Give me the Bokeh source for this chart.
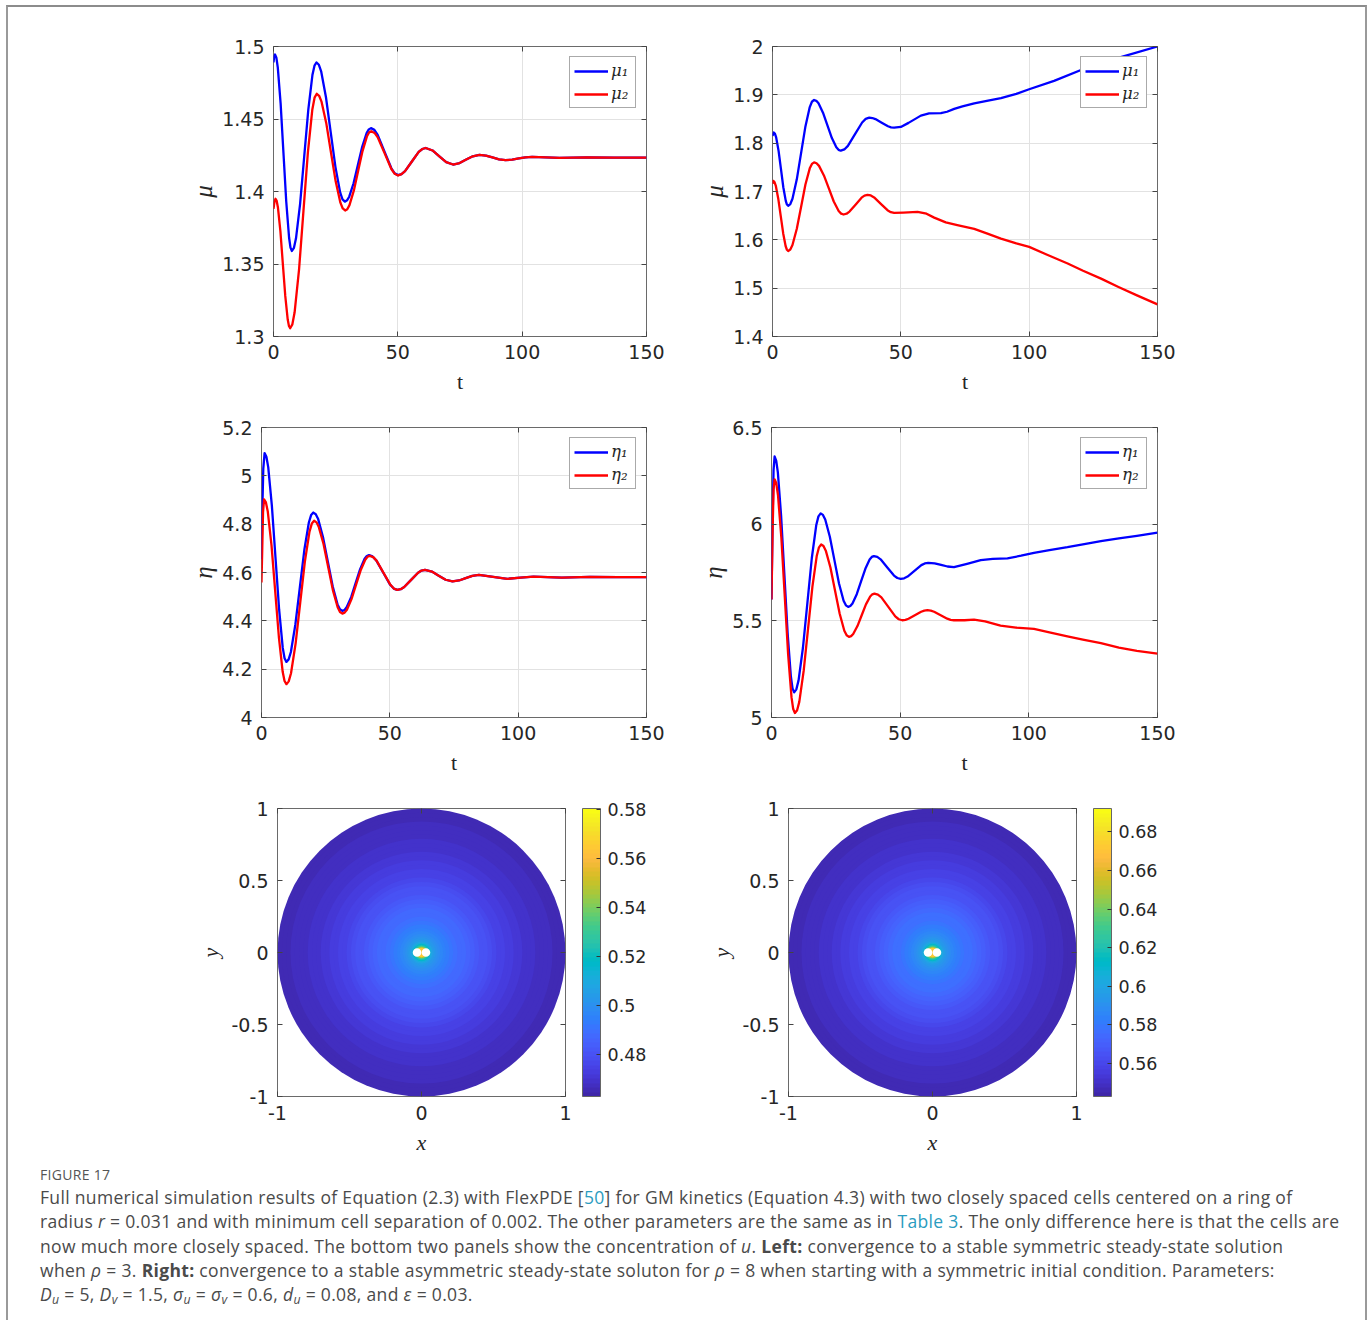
import numpy as np
from bokeh.plotting import figure
from bokeh.models import (ColumnDataSource, LinearAxis, FixedTicker, Legend, LegendItem,
                          LinearColorMapper, ColorBar, Div, Spacer, Range1d)
from bokeh.layouts import row, column
from bokeh.embed import file_html
from bokeh.resources import INLINE

# ---------------- data: (t, value) pairs ----------------
# Panel 1 (rho = 3): mu1
p1_mu1 = [(0, 1.489), (0.3, 1.4935), (0.6, 1.4945), (1.17, 1.4922), (1.73, 1.4854), (2.87, 1.4606),
          (4.0, 1.4267), (5.13, 1.3929), (6.27, 1.3681), (6.83, 1.3613), (7.4, 1.359), (8.23, 1.3612),
          (9.05, 1.3677), (10.7, 1.3915), (12.35, 1.424), (14.0, 1.4565), (15.65, 1.4803),
          (16.48, 1.4868), (17.3, 1.489), (18.25, 1.4874), (19.2, 1.4826), (21.1, 1.465),
          (23.0, 1.441), (24.9, 1.417), (26.8, 1.3994), (27.75, 1.3946), (28.7, 1.393),
          (29.575, 1.3939), (30.45, 1.3964), (32.2, 1.4057), (33.95, 1.4184), (35.7, 1.431),
          (37.45, 1.4403), (38.325, 1.4428), (39.2, 1.4437), (40.56, 1.4425), (41.9, 1.439),
          (44.65, 1.4275), (47.4, 1.416), (48.74, 1.4125), (50.1, 1.4113), (51.49, 1.412),
          (52.9, 1.414), (55.65, 1.4207), (58.4, 1.4273), (59.81, 1.4293), (61.2, 1.430),
          (63.95, 1.4283), (66.7, 1.4243), (69.45, 1.4203), (72.2, 1.4186), (74.85, 1.4196),
          (77.5, 1.422), (80.15, 1.4243), (82.8, 1.4253), (85.4, 1.4248), (88.05, 1.4235),
          (90.7, 1.4221), (93.3, 1.4216), (96.0, 1.422), (98.65, 1.4228), (101.3, 1.4236),
          (104.0, 1.4239), (115, 1.4232), (126, 1.4236), (137, 1.4234), (150, 1.4234)]
# Panel 1: mu2
p1_mu2 = [(0, 1.388), (0.4, 1.393), (0.8, 1.395), (1.29, 1.3935), (1.78, 1.389), (2.77, 1.3727),
          (3.75, 1.3503), (4.73, 1.328), (5.72, 1.3117), (6.21, 1.3072), (6.7, 1.3057),
          (7.59, 1.3084), (8.48, 1.3165), (10.27, 1.3461), (12.05, 1.3866), (13.83, 1.427),
          (15.62, 1.4566), (16.51, 1.4647), (17.4, 1.4674), (18.35, 1.466), (19.3, 1.462),
          (21.2, 1.4473), (23.1, 1.4271), (25.0, 1.407), (26.9, 1.3923), (27.85, 1.3883),
          (28.8, 1.3869), (29.675, 1.3878), (30.55, 1.3906), (32.3, 1.4006), (34.05, 1.4143),
          (35.8, 1.4279), (37.55, 1.4379), (38.425, 1.4407), (39.3, 1.4416), (40.65, 1.4404),
          (42.0, 1.4371), (44.7, 1.4263), (47.4, 1.4155), (48.75, 1.4122), (50.1, 1.411),
          (51.49, 1.412), (52.9, 1.414), (55.65, 1.4207), (58.4, 1.4273), (59.81, 1.4293),
          (61.2, 1.430), (63.95, 1.4283), (66.7, 1.4243), (69.45, 1.4203), (72.2, 1.4186),
          (74.85, 1.4196), (77.5, 1.422), (80.15, 1.4243), (82.8, 1.4253), (85.4, 1.4248),
          (88.05, 1.4235), (90.7, 1.4221), (93.3, 1.4216), (96.0, 1.422), (98.65, 1.4228),
          (101.3, 1.4236), (104.0, 1.4239), (115, 1.4232), (126, 1.4236), (137, 1.4234),
          (150, 1.4234)]

# Panel 2 (rho = 8): mu1
p2_mu1 = [(0, 1.815), (0.5, 1.822), (0.97, 1.8194), (1.43, 1.8118), (2.37, 1.7841), (3.3, 1.7462),
          (4.23, 1.7083), (5.17, 1.6806), (5.63, 1.673), (6.1, 1.6704), (6.94, 1.6741),
          (7.78, 1.6851), (9.47, 1.7252), (11.15, 1.7799), (12.83, 1.8347), (14.52, 1.8747),
          (15.36, 1.8857), (16.2, 1.8894), (17.07, 1.8876), (17.93, 1.8824), (19.67, 1.8631),
          (21.4, 1.8369), (23.13, 1.8106), (24.87, 1.7914), (25.73, 1.7862), (26.6, 1.7844),
          (27.99, 1.787), (29.375, 1.7944), (32.15, 1.8186), (34.925, 1.8428), (36.31, 1.8502),
          (37.7, 1.8528), (38.91, 1.852), (40.1, 1.8498), (42.55, 1.8424), (45.0, 1.835),
          (46.19, 1.8328), (47.4, 1.832), (50, 1.8335), (53, 1.842), (57.8, 1.857), (61, 1.8615),
          (65.6, 1.862), (68, 1.865), (70.8, 1.871), (74, 1.876), (78.6, 1.8825), (84, 1.888),
          (89, 1.893), (95, 1.902), (100, 1.9115), (109.7, 1.929), (121.4, 1.954),
          (135.7, 1.978), (150, 2.0)]
# Panel 2: mu2
p2_mu2 = [(0, 1.716), (0.3, 1.722), (0.78, 1.7195), (1.27, 1.7123), (2.23, 1.6857), (3.2, 1.6495),
          (4.17, 1.6132), (5.13, 1.5867), (5.62, 1.5795), (6.1, 1.577), (6.94, 1.5801),
          (7.78, 1.5893), (9.47, 1.6228), (11.15, 1.6686), (12.83, 1.7144), (14.52, 1.7479),
          (15.36, 1.7571), (16.2, 1.7602), (17.16, 1.7584), (18.12, 1.753), (20.03, 1.7332),
          (21.95, 1.7063), (23.87, 1.6793), (25.78, 1.6596), (26.74, 1.6542), (27.7, 1.6524),
          (28.86, 1.654), (30.0, 1.6584), (32.35, 1.6728), (34.7, 1.6872), (35.84, 1.6916),
          (37.0, 1.6932), (38.3, 1.6918), (39.6, 1.6877), (42.2, 1.6745), (44.8, 1.6614),
          (46.1, 1.6573), (47.4, 1.6559), (51, 1.6565), (56.5, 1.658), (60, 1.654), (63, 1.646),
          (67.5, 1.636), (72, 1.6305), (78.6, 1.6227), (84, 1.6125), (89, 1.6026), (95, 1.5925),
          (100, 1.5854), (107, 1.569), (115, 1.551), (121, 1.536), (128, 1.5197), (135, 1.502),
          (142, 1.485), (150, 1.4665)]

# Panel 3 (rho = 3): eta1
p3_eta1 = [(0, 4.655), (0.3, 4.85), (0.7, 5.03), (1.2, 5.094), (1.91, 5.079), (2.62, 5.036),
           (4.03, 4.878), (5.45, 4.662), (6.87, 4.446), (8.28, 4.288), (8.99, 4.245), (9.7, 4.230),
           (10.575, 4.2405), (11.45, 4.271), (13.2, 4.385), (14.95, 4.539), (16.7, 4.694),
           (18.45, 4.807), (19.325, 4.8375), (20.2, 4.848), (21.14, 4.841), (22.08, 4.821),
           (23.97, 4.746), (25.85, 4.645), (27.73, 4.543), (29.62, 4.468), (30.56, 4.448),
           (31.5, 4.441), (32.37, 4.445), (33.23, 4.457), (34.97, 4.499), (36.7, 4.557),
           (38.43, 4.614), (40.17, 4.657), (41.03, 4.668), (41.9, 4.672), (43.275, 4.6665),
           (44.65, 4.651), (47.4, 4.600), (50.15, 4.549), (51.525, 4.5335), (52.9, 4.528),
           (54.25, 4.531), (55.6, 4.540), (58.3, 4.5695), (61.0, 4.599), (62.35, 4.608),
           (63.7, 4.611), (66.38, 4.604), (69.05, 4.587), (71.73, 4.570), (74.4, 4.563),
           (76.98, 4.567), (79.55, 4.5765), (82.13, 4.586), (84.7, 4.590), (90.25, 4.582),
           (95.8, 4.574), (100.9, 4.5785), (106, 4.583), (117, 4.579), (128, 4.582), (139, 4.581),
           (150, 4.581)]
# Panel 3: eta2
p3_eta2 = [(0, 4.559), (0.3, 4.70), (0.6, 4.85), (1.0, 4.903), (1.725, 4.890), (2.45, 4.852),
           (3.9, 4.712), (5.35, 4.521), (6.8, 4.329), (8.25, 4.189), (8.975, 4.151), (9.7, 4.138),
           (10.6, 4.1495), (11.5, 4.183), (13.3, 4.307), (15.1, 4.476), (16.9, 4.645),
           (18.7, 4.769), (19.6, 4.8025), (20.5, 4.814), (21.42, 4.8075), (22.33, 4.788),
           (24.17, 4.718), (26.0, 4.622), (27.83, 4.526), (29.67, 4.456), (30.58, 4.4365),
           (31.5, 4.430), (32.39, 4.434), (33.28, 4.446), (35.07, 4.490), (36.85, 4.550),
           (38.63, 4.609), (40.42, 4.653), (41.31, 4.665), (42.2, 4.669), (43.54, 4.6636),
           (44.88, 4.648), (47.55, 4.5985), (50.23, 4.549), (51.56, 4.5334), (52.9, 4.528),
           (54.25, 4.531), (55.6, 4.540), (58.3, 4.5695), (61.0, 4.599), (62.35, 4.608),
           (63.7, 4.611), (66.38, 4.604), (69.05, 4.587), (71.73, 4.570), (74.4, 4.563),
           (76.98, 4.567), (79.55, 4.5765), (82.13, 4.586), (84.7, 4.590), (90.25, 4.582),
           (95.8, 4.574), (100.9, 4.5785), (106, 4.583), (117, 4.579), (128, 4.582), (139, 4.581),
           (150, 4.581)]

# Panel 4 (rho = 8): eta1
p4_eta1 = [(0, 5.61), (0.4, 6.0), (0.8, 6.28), (1.2, 6.35), (1.83, 6.329), (2.47, 6.268),
           (3.73, 6.045), (5.0, 5.740), (6.27, 5.435), (7.53, 5.212), (8.17, 5.151), (8.8, 5.130),
           (9.66, 5.1457), (10.52, 5.192), (12.23, 5.362), (13.95, 5.593), (15.67, 5.825),
           (17.38, 5.994), (18.24, 6.0403), (19.1, 6.056), (19.99, 6.0478), (20.88, 6.024),
           (22.67, 5.935), (24.45, 5.814), (26.23, 5.693), (28.02, 5.604), (28.91, 5.5802),
           (29.8, 5.572), (30.63, 5.5765), (31.47, 5.590), (33.13, 5.638), (34.8, 5.704),
           (36.47, 5.769), (38.13, 5.817), (38.97, 5.8305), (39.8, 5.835), (41.1, 5.8305),
           (42.4, 5.818), (45.0, 5.776), (47.6, 5.734), (48.9, 5.7215), (50.2, 5.717),
           (51.54, 5.7202), (52.88, 5.729), (55.55, 5.7585), (58.23, 5.788), (59.56, 5.7968),
           (60.9, 5.800), (63.4, 5.797), (65.9, 5.789), (68.4, 5.781), (70.9, 5.778), (76, 5.795),
           (81.3, 5.814), (86, 5.820), (91.7, 5.823), (97, 5.837), (102, 5.852), (108, 5.866),
           (115, 5.881), (121, 5.896), (128, 5.912), (135, 5.926), (142, 5.940), (150, 5.956)]
# Panel 4: eta2
p4_eta2 = [(0, 5.61), (0.4, 5.95), (0.8, 6.18), (1.2, 6.232), (1.86, 6.2114), (2.52, 6.151),
           (3.83, 5.930), (5.15, 5.6275), (6.47, 5.325), (7.78, 5.104), (8.44, 5.0436), (9.1, 5.023),
           (9.95, 5.0378), (10.8, 5.081), (12.5, 5.241), (14.2, 5.459), (15.9, 5.677),
           (17.6, 5.837), (18.45, 5.8802), (19.3, 5.895), (20.2, 5.8869), (21.1, 5.863),
           (22.9, 5.7755), (24.7, 5.656), (26.5, 5.5365), (28.3, 5.449), (29.2, 5.4251),
           (30.1, 5.417), (30.93, 5.4208), (31.75, 5.432), (33.4, 5.473), (35.05, 5.529),
           (36.7, 5.585), (38.35, 5.626), (39.18, 5.6372), (40.0, 5.641), (41.35, 5.6358),
           (42.7, 5.621), (45.4, 5.572), (48.1, 5.523), (49.45, 5.5082), (50.8, 5.503),
           (52.03, 5.505), (53.25, 5.5106), (55.7, 5.529), (58.15, 5.547), (59.38, 5.553),
           (60.6, 5.555), (61.89, 5.553), (63.2, 5.547), (65.75, 5.529), (68.3, 5.511),
           (69.61, 5.505), (70.9, 5.503), (75, 5.503), (78.7, 5.506), (83, 5.497), (89, 5.475),
           (95, 5.465), (102, 5.458), (108, 5.440), (115, 5.420), (121, 5.403), (128, 5.385),
           (135, 5.362), (142, 5.345), (150, 5.330)]

# Bottom panels: radial profile of u on the unit disk (outer -> inner)
disk_r = [1.0, 0.97, 0.94, 0.91, 0.88, 0.85, 0.82, 0.79, 0.76, 0.73, 0.70, 0.67, 0.64, 0.61,
          0.58, 0.55, 0.52, 0.49, 0.46, 0.43, 0.40, 0.37, 0.34, 0.31, 0.28, 0.25, 0.22, 0.195,
          0.17, 0.15, 0.13, 0.115, 0.10, 0.088, 0.077, 0.068, 0.06, 0.053, 0.047, 0.042, 0.037,
          0.033]
u_left = [0.4660, 0.4663, 0.4666, 0.4669, 0.4673, 0.4677, 0.4682, 0.4687, 0.4693, 0.4700,
          0.4708, 0.4716, 0.4725, 0.4735, 0.4746, 0.4758, 0.4770, 0.4783, 0.4797, 0.4811,
          0.4826, 0.4841, 0.4856, 0.4871, 0.4887, 0.4903, 0.4919, 0.4934, 0.4950, 0.4965,
          0.4983, 0.5000, 0.5022, 0.5048, 0.5080, 0.5120, 0.5170, 0.5230, 0.5300, 0.5390,
          0.5500, 0.5650]
u_right = [0.5468, 0.5472, 0.5476, 0.5479, 0.5485, 0.5490, 0.5496, 0.5502, 0.5510, 0.5519,
           0.5529, 0.5539, 0.5550, 0.5563, 0.5577, 0.5592, 0.5608, 0.5624, 0.5642, 0.5660,
           0.5679, 0.5698, 0.5717, 0.5736, 0.5756, 0.5776, 0.5797, 0.5816, 0.5836, 0.5855,
           0.5878, 0.5899, 0.5927, 0.5960, 0.6001, 0.6051, 0.6115, 0.6191, 0.6280, 0.6394,
           0.6533, 0.6723]
cbar_left_range = (0.463, 0.5805)
cbar_right_range = (0.543, 0.692)
cbar_left_ticks = [0.48, 0.50, 0.52, 0.54, 0.56, 0.58]
cbar_left_labels = ["0.48", "0.5", "0.52", "0.54", "0.56", "0.58"]
cbar_right_ticks = [0.56, 0.58, 0.60, 0.62, 0.64, 0.66, 0.68]
cbar_right_labels = ["0.56", "0.58", "0.6", "0.62", "0.64", "0.66", "0.68"]
ring_radius = 0.031      # cells centred on a ring of radius r
cell_radius = 0.03       # epsilon
cell_x = [-ring_radius, ring_radius]
cell_y = [0.0, 0.0]
disk_center = (0.0, 0.0)

# tick values / labels
t_ticks = [0, 50, 100, 150]
t_labels = ["0", "50", "100", "150"]
p1_yticks = [1.3, 1.35, 1.4, 1.45, 1.5]
p1_ylabels = ["1.3", "1.35", "1.4", "1.45", "1.5"]
p2_yticks = [1.4, 1.5, 1.6, 1.7, 1.8, 1.9, 2.0]
p2_ylabels = ["1.4", "1.5", "1.6", "1.7", "1.8", "1.9", "2"]
p3_yticks = [4.0, 4.2, 4.4, 4.6, 4.8, 5.0, 5.2]
p3_ylabels = ["4", "4.2", "4.4", "4.6", "4.8", "5", "5.2"]
p4_yticks = [5.0, 5.5, 6.0, 6.5]
p4_ylabels = ["5", "5.5", "6", "6.5"]
disk_xticks = [-1, 0, 1]
disk_xlabels = ["-1", "0", "1"]
disk_yticks = [-1, -0.5, 0, 0.5, 1]
disk_ylabels = ["-1", "-0.5", "0", "0.5", "1"]

# MATLAB parula colormap (64 entries)
PARULA_RGB = [
    (0.2422, 0.1504, 0.6603), (0.2504, 0.1650, 0.7076), (0.2578, 0.1818, 0.7511), (0.2647, 0.1978, 0.7952),
    (0.2706, 0.2147, 0.8364), (0.2751, 0.2342, 0.8710), (0.2783, 0.2559, 0.8991), (0.2803, 0.2782, 0.9221),
    (0.2813, 0.3006, 0.9414), (0.2810, 0.3228, 0.9579), (0.2795, 0.3447, 0.9717), (0.2760, 0.3667, 0.9829),
    (0.2699, 0.3892, 0.9906), (0.2602, 0.4123, 0.9952), (0.2440, 0.4358, 0.9988), (0.2206, 0.4603, 0.9973),
    (0.1963, 0.4847, 0.9892), (0.1834, 0.5074, 0.9798), (0.1786, 0.5289, 0.9682), (0.1764, 0.5499, 0.9520),
    (0.1687, 0.5703, 0.9359), (0.1540, 0.5902, 0.9218), (0.1460, 0.6091, 0.9079), (0.1380, 0.6276, 0.8973),
    (0.1248, 0.6459, 0.8883), (0.1113, 0.6635, 0.8763), (0.0952, 0.6798, 0.8598), (0.0689, 0.6948, 0.8394),
    (0.0297, 0.7082, 0.8163), (0.0036, 0.7203, 0.7917), (0.0067, 0.7312, 0.7660), (0.0433, 0.7411, 0.7394),
    (0.0964, 0.7500, 0.7120), (0.1408, 0.7584, 0.6842), (0.1717, 0.7670, 0.6554), (0.1938, 0.7758, 0.6251),
    (0.2161, 0.7843, 0.5923), (0.2470, 0.7918, 0.5567), (0.2906, 0.7973, 0.5188), (0.3406, 0.8008, 0.4789),
    (0.3909, 0.8029, 0.4354), (0.4456, 0.8024, 0.3909), (0.5044, 0.7993, 0.3480), (0.5616, 0.7942, 0.3045),
    (0.6174, 0.7876, 0.2612), (0.6720, 0.7793, 0.2227), (0.7242, 0.7698, 0.1910), (0.7738, 0.7598, 0.1646),
    (0.8203, 0.7498, 0.1535), (0.8634, 0.7406, 0.1596), (0.9035, 0.7330, 0.1774), (0.9393, 0.7288, 0.2100),
    (0.9728, 0.7298, 0.2394), (0.9956, 0.7434, 0.2371), (0.9970, 0.7659, 0.2199), (0.9952, 0.7893, 0.2028),
    (0.9892, 0.8136, 0.1885), (0.9786, 0.8386, 0.1766), (0.9676, 0.8639, 0.1643), (0.9610, 0.8890, 0.1537),
    (0.9597, 0.9135, 0.1423), (0.9628, 0.9373, 0.1265), (0.9691, 0.9606, 0.1064), (0.9769, 0.9839, 0.0805)]
PARULA = ["#%02x%02x%02x" % tuple(int(round(c * 255)) for c in rgb) for rgb in PARULA_RGB]

TICK_FONT = "DejaVu Sans"
LABEL_FONT = "Liberation Serif"
TXT = "#262626"
FRAME = "#6a6a6a"


def style_main_axis(ax, ticks, labels, standoff, label_standoff, label, label_style, label_size="22px"):
    ax.ticker = FixedTicker(ticks=ticks)
    ax.major_label_overrides = {t: l for t, l in zip(ticks, labels)}
    ax.axis_line_color = None
    ax.major_tick_in = 5
    ax.major_tick_out = 0
    ax.minor_tick_line_color = None
    ax.major_tick_line_color = "#444444"
    ax.major_label_text_font = TICK_FONT
    ax.major_label_text_font_size = "19px"
    ax.major_label_text_color = TXT
    ax.major_label_standoff = standoff
    ax.axis_label = label
    ax.axis_label_standoff = label_standoff
    ax.axis_label_text_font = LABEL_FONT
    ax.axis_label_text_font_size = label_size
    ax.axis_label_text_font_style = label_style
    ax.axis_label_text_color = TXT


def mirror_axis(p, ticks, side, tick_in=5, tick_out=0, tick_color="#444444"):
    ax = LinearAxis(ticker=FixedTicker(ticks=ticks))
    ax.axis_line_color = None
    ax.major_tick_in = tick_in
    ax.major_tick_out = tick_out
    ax.minor_tick_line_color = None
    ax.major_tick_line_color = tick_color
    ax.major_label_text_font_size = "1px"
    ax.major_label_text_color = None
    ax.major_label_standoff = 0
    p.add_layout(ax, side)


def base_fig(fw, fh, ml, mr, mt, mb, xr, yr):
    p = figure(frame_width=fw, frame_height=fh, min_border_left=ml, min_border_right=mr,
               min_border_top=mt, min_border_bottom=mb, x_range=Range1d(*xr), y_range=Range1d(*yr),
               output_backend="svg", toolbar_location=None)
    p.outline_line_color = FRAME
    p.outline_line_width = 1
    p.background_fill_color = "white"
    p.border_fill_color = "white"
    return p


def line_fig(fw, fh, ml, mr, mt, mb, yr, yticks, ylabels, ysym, pts_a, pts_b):
    p = base_fig(fw, fh, ml, mr, mt, mb, (0, 150), yr)
    style_main_axis(p.xaxis[0], t_ticks, t_labels, 8, 7, "t", "normal")
    style_main_axis(p.yaxis[0], yticks, ylabels, 9, 2, ysym, "italic", "25px")
    p.xgrid.ticker = FixedTicker(ticks=t_ticks)
    p.ygrid.ticker = FixedTicker(ticks=yticks)
    p.grid.grid_line_color = "#e2e2e2"
    p.grid.grid_line_width = 1
    mirror_axis(p, yticks, "right")
    mirror_axis(p, t_ticks, "above")
    ta, ya = zip(*pts_a)
    tb, yb = zip(*pts_b)
    r1 = p.line(list(ta), list(ya), line_color="#0000ff", line_width=2.3, line_join="round")
    r2 = p.line(list(tb), list(yb), line_color="#ff0000", line_width=2.3, line_join="round")
    sub = {"μ": ("μ₁", "μ₂"), "η": ("η₁", "η₂")}[ysym]
    leg = Legend(items=[LegendItem(label=sub[0], renderers=[r1]),
                        LegendItem(label=sub[1], renderers=[r2])],
                 location="top_right")
    leg.margin = 10
    leg.padding = 4
    leg.spacing = 4
    leg.glyph_width = 34
    leg.glyph_height = 18
    leg.label_standoff = 3
    leg.label_height = 18
    leg.label_text_font = "DejaVu Serif"
    leg.label_text_font_style = "italic"
    leg.label_text_font_size = "16.5px"
    leg.label_text_color = TXT
    leg.border_line_color = "#555555"
    leg.border_line_width = 1
    leg.background_fill_color = "white"
    leg.background_fill_alpha = 1.0
    p.add_layout(leg)
    return p


def disk_fig(ml, mr, mt, mb, u_vals, crange, cticks, clabels):
    p = base_fig(288, 288, ml, mr, mt, mb, (-1, 1), (-1, 1))
    style_main_axis(p.xaxis[0], disk_xticks, disk_xlabels, 9, 7, "x", "italic")
    style_main_axis(p.yaxis[0], disk_yticks, disk_ylabels, 9, 5, "y", "italic")
    p.grid.visible = False
    mirror_axis(p, disk_yticks, "right")
    # invisible spacer axis: opens the gap between the frame and the colour bar
    mirror_axis(p, disk_yticks, "right", tick_in=0, tick_out=17, tick_color=None)
    mirror_axis(p, disk_xticks, "above")
    mapper = LinearColorMapper(palette=PARULA, low=crange[0], high=crange[1])
    n = len(disk_r)
    src = ColumnDataSource(dict(x=[disk_center[0]] * n, y=[disk_center[1]] * n, r=disk_r, u=u_vals))
    p.circle(x="x", y="y", radius="r", source=src,
             fill_color={"field": "u", "transform": mapper}, line_color=None)
    p.circle(x=cell_x, y=cell_y, radius=cell_radius, fill_color="white", line_color=None)
    cb = ColorBar(color_mapper=mapper, ticker=FixedTicker(ticks=cticks),
                  major_label_overrides={t: l for t, l in zip(cticks, clabels)},
                  width=18, height=288, padding=0, margin=0, location="top_left",
                  label_standoff=7, major_tick_in=4, major_tick_out=0,
                  major_tick_line_color="#333333", minor_tick_line_color=None,
                  bar_line_color="#666666", border_line_color=None,
                  background_fill_color=None,
                  major_label_text_font=TICK_FONT, major_label_text_font_size="17.5px",
                  major_label_text_color=TXT)
    p.add_layout(cb, "right")
    return p


f1 = line_fig(373, 290, 265, 44, 39, 64, (1.3, 1.5), p1_yticks, p1_ylabels, "μ", p1_mu1, p1_mu2)
f2 = line_fig(385, 290, 82, 208, 39, 64, (1.4, 2.0), p2_yticks, p2_ylabels, "μ", p2_mu1, p2_mu2)
f3 = line_fig(385, 290, 253, 44, 27, 63, (4.0, 5.2), p3_yticks, p3_ylabels, "η", p3_eta1, p3_eta2)
f4 = line_fig(386, 290, 81, 208, 27, 63, (5.0, 6.5), p4_yticks, p4_ylabels, "η", p4_eta1, p4_eta2)
f5 = disk_fig(269, 135, 28, 64, u_left, cbar_left_range, cbar_left_ticks, cbar_left_labels)
f6 = disk_fig(88, 289, 28, 64, u_right, cbar_right_range, cbar_right_ticks, cbar_right_labels)

LINK = "#2a9cc0"
SUB = "font-size:70%; line-height:0; vertical-align:-0.25em"
caption_html = (
    '<div style="font-family:\'Open Sans\'; color:#555555; font-size:14px; line-height:20px; '
    'letter-spacing:0.3px;">FIGURE 17</div>'
    '<div style="font-family:\'Open Sans\'; color:#4a4a4a; font-size:17.5px; line-height:24.3px; '
    'letter-spacing:0.33px; white-space:nowrap;">'
    'Full numerical simulation results of Equation (2.3) with FlexPDE [<span style="color:%s">50</span>] '
    'for GM kinetics (Equation 4.3) with two closely spaced cells centered on a ring of<br>'
    'radius <i>r</i> = 0.031 and with minimum cell separation of 0.002. The other parameters are the '
    'same as in <span style="color:%s">Table 3</span>. The only difference here is that the cells are<br>'
    'now much more closely spaced. The bottom two panels show the concentration of <i>u</i>. '
    '<b>Left:</b> convergence to a stable symmetric steady-state solution<br>'
    'when <i>ρ</i> = 3. <b>Right:</b> convergence to a stable asymmetric steady-state soluton for '
    '<i>ρ</i> = 8 when starting with a symmetric initial condition. Parameters:<br>'
    '<i>D<span style="%s">u</span></i> = 5, <i>D<span style="%s">v</span></i> = 1.5, '
    '<i>σ<span style="%s">u</span></i> = <i>σ<span style="%s">v</span></i> = 0.6, '
    '<i>d<span style="%s">u</span></i> = 0.08, and <i>ε</i> = 0.03.'
    '</div>') % (LINK, LINK, SUB, SUB, SUB, SUB, SUB)
caption = Div(text=caption_html, width=1320, height=150)

inner = column(
    row(f1, f2),
    row(f3, f4),
    row(f5, f6),
    row(Spacer(width=27, height=150), caption),
    styles={"border-top": "2px solid #8c8c8c", "border-left": "2px solid #9a9a9a",
            "border-right": "2px solid #9a9a9a", "background-color": "white"})
layout = column(Spacer(width=10, height=5), row(Spacer(width=6, height=10), inner))

open("out.html", "w").write(file_html(layout, INLINE))
